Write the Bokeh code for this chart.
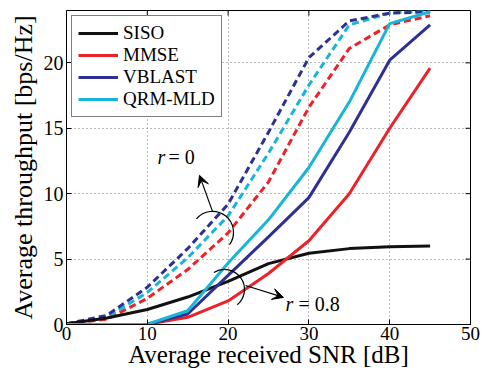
from bokeh.plotting import figure
from bokeh.models import (Range1d, FixedTicker, Legend, LegendItem,
                          Arrow, VeeHead)
from bokeh.core.properties import value
from bokeh.embed import file_html
from bokeh.resources import INLINE

# ---------------- data ----------------
snr = [0, 5, 10, 15, 20, 25, 30, 35, 40, 45]

# r = 0.8 (solid)
siso = [0.05, 0.5, 1.15, 2.1, 3.3, 4.65, 5.45, 5.8, 5.95, 6.0]
mmse_08 = [0.0, 0.0, 0.02, 0.55, 1.8, 3.9, 6.4, 10.0, 15.0, 19.6]
vblast_08 = [0.0, 0.0, 0.02, 0.8, 3.75, 6.7, 9.7, 14.7, 20.2, 22.9]
qrm_08 = [0.0, 0.0, 0.02, 1.05, 4.7, 8.0, 12.0, 17.0, 23.0, 23.9]

# r = 0 (dashed)
mmse_0 = [0.05, 0.4, 2.0, 4.2, 7.0, 10.9, 16.6, 21.1, 22.9, 23.6]
vblast_0 = [0.05, 0.7, 2.85, 5.8, 9.2, 14.7, 20.4, 23.2, 23.8, 23.9]
qrm_0 = [0.05, 0.55, 2.45, 5.1, 8.3, 13.1, 18.3, 22.9, 23.8, 24.0]

series_names = ["SISO", "MMSE", "VBLAST", "QRM-MLD"]
x_ticks = [0, 10, 20, 30, 40, 50]
y_ticks = [0, 5, 10, 15, 20]
X_MAX = 50
Y_MAX = 24

# annotation anchors (data units)
arc_r0 = dict(x=18.07, y=7.04, r=21, start=-36, end=140)
arc_r08 = dict(x=19.55, y=2.68, r=20, start=-50, end=122)
arrow_r0 = dict(x0=18.07, y0=8.65, x1=16.46, y1=11.40)
arrow_r08 = dict(x0=22.15, y0=2.98, x1=26.86, y1=2.07)
label_r0 = dict(rx=11.26, eqx=12.62, y=12.78, rest="= 0")
label_r08 = dict(rx=27.1, eqx=28.71, y=1.53, rest="= 0.8")

FONT = "Liberation Serif"
BLACK = "#111111"
RED = "#ED2228"
NAVY = "#2E3192"
CYAN = "#17B5D8"

p = figure(width=487, height=372, output_backend="svg", toolbar_location=None,
           x_range=Range1d(0, X_MAX), y_range=Range1d(0, Y_MAX),
           min_border_left=66, min_border_right=17, min_border_top=10,
           min_border_bottom=48)
p.background_fill_color = "white"
p.border_fill_color = "white"
p.outline_line_color = "black"
p.outline_line_width = 1

# grid
for g in (p.xgrid, p.ygrid):
    g.grid_line_color = "#777777"
    g.grid_line_dash = "1 3"
    g.grid_line_width = 1
p.xgrid.ticker = FixedTicker(ticks=x_ticks[1:-1])
p.ygrid.ticker = FixedTicker(ticks=y_ticks[1:])

# axes
for ax, ticks in ((p.xaxis[0], x_ticks), (p.yaxis[0], y_ticks)):
    ax.ticker = FixedTicker(ticks=ticks)
    ax.major_tick_in = 5
    ax.major_tick_out = 0
    ax.minor_tick_line_color = None
    ax.axis_line_color = "black"
    ax.major_tick_line_color = "black"
    ax.major_label_text_font = FONT
    ax.major_label_text_color = "black"
    ax.major_label_text_font_size = "20px"
    ax.axis_label_text_font = FONT
    ax.axis_label_text_font_style = "normal"
    ax.axis_label_text_color = "black"
p.xaxis.axis_label = "Average received SNR [dB]"
p.yaxis.axis_label = "Average throughput [bps/Hz]"
p.xaxis.axis_label_text_font_size = "25px"
p.yaxis.axis_label_text_font_size = "26px"
p.xaxis.major_label_text_font_size = "19px"
p.xaxis.major_label_standoff = 2
p.xaxis.axis_label_standoff = -2
p.yaxis.major_label_standoff = 3
p.yaxis.axis_label_standoff = 3

# inward ticks on top and right edges
p.ray(x=x_ticks, y=[Y_MAX] * len(x_ticks), length=5, length_units="screen",
      angle=-90, angle_units="deg", line_color="black", line_width=1)
p.ray(x=[X_MAX] * len(y_ticks), y=y_ticks, length=5, length_units="screen",
      angle=180, angle_units="deg", line_color="black", line_width=1)

# dashed r = 0 curves
dash = "7 4"
p.line(snr, mmse_0, line_color=RED, line_width=3, line_dash=dash)
p.line(snr, qrm_0, line_color=CYAN, line_width=3, line_dash=dash)
p.line(snr, vblast_0, line_color=NAVY, line_width=3, line_dash=dash)

# solid r = 0.8 curves
r_siso = p.line(snr, siso, line_color=BLACK, line_width=3)
r_mmse = p.line(snr, mmse_08, line_color=RED, line_width=3)
r_vb = p.line(snr, vblast_08, line_color=NAVY, line_width=3)
r_qrm = p.line(snr, qrm_08, line_color=CYAN, line_width=3)

# annotations
for a in (arc_r0, arc_r08):
    p.arc(x=[a["x"]], y=[a["y"]], radius=a["r"], radius_units="screen",
          start_angle=a["start"], end_angle=a["end"],
          start_angle_units="deg", end_angle_units="deg",
          direction="anticlock", line_color="black", line_width=1.2)
for a in (arrow_r0, arrow_r08):
    p.add_layout(Arrow(x_start=a["x0"], y_start=a["y0"], x_end=a["x1"], y_end=a["y1"],
                       line_color="black", line_width=1.2,
                       end=VeeHead(size=11, fill_color="black", line_color="black")))
for lb in (label_r0, label_r08):
    p.text(x=[lb["rx"]], y=[lb["y"]], text=["r"], text_font=value(FONT),
           text_font_style="italic", text_font_size="20px", text_color="black",
           text_baseline="alphabetic", text_align="left")
    p.text(x=[lb["eqx"]], y=[lb["y"]], text=[lb["rest"]], text_font=value(FONT),
           text_font_size="20px", text_color="black",
           text_baseline="alphabetic", text_align="left")

legend = Legend(items=[LegendItem(label=n, renderers=[r]) for n, r in
                       zip(series_names, [r_siso, r_mmse, r_vb, r_qrm])],
                location="top_left")
legend.label_text_font = FONT
legend.label_text_font_size = "19px"
legend.label_text_color = "black"
legend.glyph_width = 40
legend.glyph_height = 20
legend.label_height = 20
legend.spacing = 0
legend.padding = 6
legend.margin = 5
legend.label_standoff = 5
legend.border_line_color = "black"
legend.border_line_width = 1
legend.background_fill_color = "white"
legend.background_fill_alpha = 1
p.add_layout(legend)

open("out.html", "w").write(file_html(p, INLINE))
